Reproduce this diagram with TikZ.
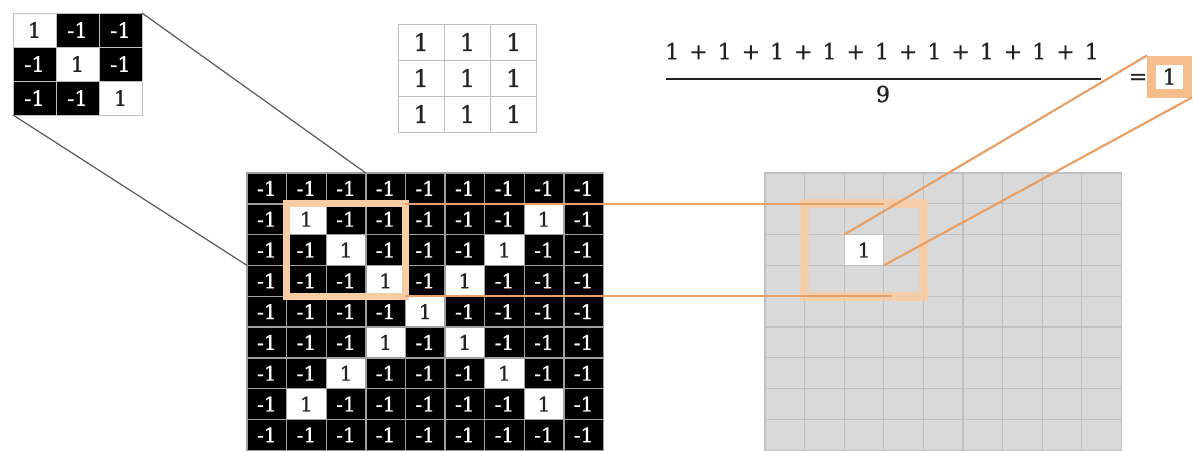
\documentclass[tikz,border=0pt]{standalone}
\usepackage{fontspec}
\setmainfont{DejaVu Serif}
\newfontfamily\heavyfont[FakeBold=0.9]{DejaVu Serif}
\usetikzlibrary{fit,calc}
\definecolor{peach}{RGB}{249,205,164}
\definecolor{peachdark}{RGB}{243,190,140}
\definecolor{lineorange}{RGB}{230,160,104}
\definecolor{cellgrey}{RGB}{217,217,217}
\definecolor{gridgrey}{RGB}{192,192,192}
\definecolor{sepgrey}{RGB}{160,160,160}
\definecolor{ink}{RGB}{34,34,34}
\newcommand\myplus{\hspace{10pt}+\hspace{10pt}}
\begin{document}
\begin{tikzpicture}[x=1pt,y=-1pt,
  bigcell/.style={rectangle,inner sep=0pt,outer sep=0pt,minimum width=39.6pt,minimum height=30.8pt,draw=sepgrey,line width=1.4pt,font=\heavyfont\fontsize{20}{20}\selectfont},
  greycell/.style={rectangle,inner sep=0pt,outer sep=0pt,minimum width=39.6pt,minimum height=30.8pt,draw=gridgrey,line width=1.3pt,fill=cellgrey,font=\heavyfont\fontsize{20}{20}\selectfont},
  smallcell/.style={rectangle,inner sep=0pt,outer sep=0pt,minimum width=43pt,minimum height=34pt,draw=gridgrey,line width=1pt,font=\heavyfont\fontsize{21}{21}\selectfont},
  midcell/.style={rectangle,inner sep=0pt,outer sep=0pt,minimum width=46.3pt,minimum height=36pt,draw=gridgrey,line width=0.9pt,fill=white,text=ink,font=\heavyfont\fontsize{24}{24}\selectfont},
  blk/.style={fill=black,text=white},
  wht/.style={fill=white,text=ink},
  window/.style={rectangle,inner sep=0pt,outer sep=0pt,draw=peach,line width=7pt},
  conn/.style={draw=lineorange,line width=2.2pt},
  thinline/.style={draw=black!65,line width=1.2pt},
  formula/.style={font=\heavyfont\fontsize{22}{22}\selectfont,text=ink,inner sep=0pt}
]
\useasboundingbox (0,0) rectangle (1193,450);
\clip (0,0) rectangle (1193,450);

% small kernel matrix
\foreach \r in {1,2,3}{
  \foreach \c in {1,2,3}{
    \ifnum\r=\c
      \node[smallcell,wht] (s-\r-\c) at ({13+(\c-0.5)*43},{13+(\r-0.5)*34}) {1};
    \else
      \node[smallcell,blk] (s-\r-\c) at ({13+(\c-0.5)*43},{13+(\r-0.5)*34}) {-1};
    \fi
  }
}

% middle matrix of ones
\foreach \r in {1,2,3}{
  \foreach \c in {1,2,3}{
    \node[midcell] (m-\r-\c) at ({398+(\c-0.5)*46.3},{24+(\r-0.5)*36}) {1};
  }
}

% big input grid
\foreach \r in {1,...,9}{
  \foreach \c in {1,...,9}{
    \pgfmathtruncatemacro\isone{and(and(\r>1,\r<9),or(\c==\r,\c==10-\r))}
    \ifnum\isone=1
      \node[bigcell,wht] (b-\r-\c) at ({247+(\c-0.5)*39.6},{173+(\r-0.5)*30.8}) {1};
    \else
      \node[bigcell,blk] (b-\r-\c) at ({247+(\c-0.5)*39.6},{173+(\r-0.5)*30.8}) {-1};
    \fi
  }
}

% grey output grid
\foreach \r in {1,...,9}{
  \foreach \c in {1,...,9}{
    \pgfmathtruncatemacro\iscenter{and(\r==3,\c==3)}
    \ifnum\iscenter=1
      \node[greycell,fill=white,text=ink] (g-\r-\c) at ({765+(\c-0.5)*39.6},{173+(\r-0.5)*30.8}) {1};
    \else
      \node[greycell] (g-\r-\c) at ({765+(\c-0.5)*39.6},{173+(\r-0.5)*30.8}) {};
    \fi
  }
}

% windows
\node[window,fit=(b-2-2)(b-4-4)] (win) {};
\node[window,line width=9pt,draw opacity=0.85,fit=(g-2-2)(g-4-4)] (gwin) {};

% connectors from kernel to grid
\draw[thinline] (s-1-3.north east) -- (b-1-3.north east);
\draw[thinline] (s-3-1.south west) -- (b-4-1.north west);

% formula
\node[formula] (num) at (882,51) {1\myplus 1\myplus 1\myplus 1\myplus 1\myplus 1\myplus 1\myplus 1\myplus 1};
\coordinate (barL) at (666,79);
\coordinate (barR) at (1101,79);
\draw[line width=2pt,ink] (barL) -- (barR);
\node[formula] (den) at (883,94) {9};
\node[formula] (eq) at (1138,79) {=};
\node[rectangle,draw=peachdark,line width=9pt,fill=white,minimum width=36pt,minimum height=33pt,inner sep=0pt,font=\heavyfont\fontsize{22}{22}\selectfont,text=ink] (eqbox) at (1169.5,76.5) {1};

% orange connectors
\draw[conn] (win.north east) -- (g-2-4.north west);
\draw[conn] (win.south east) -- ($(g-4-4.south west)+(8,0)$);
\draw[conn] (g-3-3.north west) -- (eqbox.north west);
\draw[conn] (g-3-3.south east) -- (eqbox.south east);
\end{tikzpicture}
\end{document}
